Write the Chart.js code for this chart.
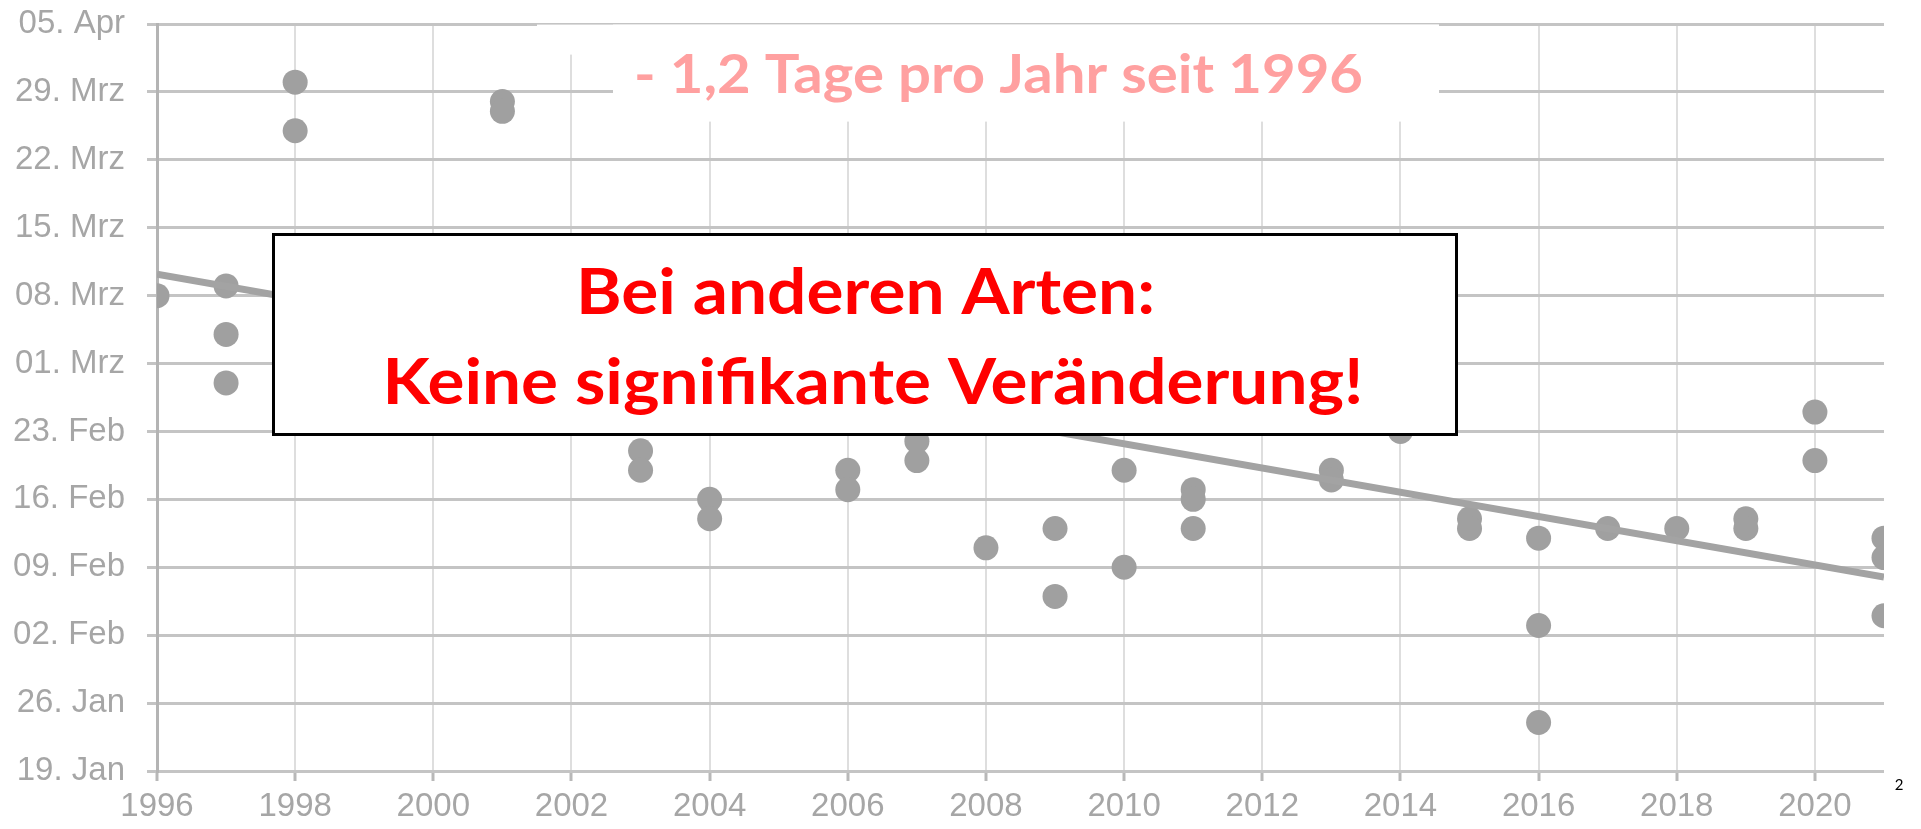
<!DOCTYPE html>
<html lang="de">
<head>
<meta charset="UTF-8">
<script src="https://cdn.jsdelivr.net/npm/chart.js"></script>
<title>Erstbeobachtung</title>
<style>
    body { margin: 0; background: #fff; }
    #wrap { width: 1921px; height: 829px; }
</style>
</head>
<body>
<div id="wrap"><canvas id="myChart"></canvas></div>
<script>
    // days counted as day of a leap year: 19 = 19. Jan, 96 = 05. Apr
    const yTickDays = [19, 26, 33, 40, 47, 54, 61, 68, 75, 82, 89, 96];
    const yTickLabels = ["19. Jan", "26. Jan", "02. Feb", "09. Feb", "16. Feb", "23. Feb",
                         "01. Mrz", "08. Mrz", "15. Mrz", "22. Mrz", "29. Mrz", "05. Apr"];
    const xTickYears = [1996, 1998, 2000, 2002, 2004, 2006, 2008, 2010, 2012, 2014, 2016, 2018, 2020];

    const obsYears = [1996, 1997, 1997, 1997, 1998, 1998, 2001, 2001, 2003, 2003,
                      2004, 2004, 2006, 2006, 2007, 2007, 2008, 2009, 2009, 2010,
                      2010, 2011, 2011, 2011, 2013, 2013, 2014, 2015, 2015, 2016,
                      2016, 2016, 2017, 2018, 2019, 2019, 2020, 2020, 2021, 2021, 2021];
    const obsDays  = [68, 69, 64, 59, 90, 85, 88, 87, 52, 50,
                      47, 45, 50, 48, 53, 51, 42, 44, 37, 50,
                      40, 48, 47, 44, 50, 49, 54, 45, 44, 43,
                      34, 24, 44, 44, 45, 44, 56, 51, 43, 41, 35];

    const trendYears = [1996, 2021];
    const trendDays = [70.2, 39.0];

    const trendNote = "- 1,2 Tage pro Jahr seit 1996";
    const boxLines = ["Bei anderen Arten:", "Keine signifikante Veränderung!"];
    const pageNo = "2";

    function fitText(ctx, text, cx, baseline, width, font, color) {
        ctx.save();
        ctx.font = font;
        ctx.fillStyle = color;
        ctx.textAlign = 'center';
        ctx.textBaseline = 'alphabetic';
        const w = ctx.measureText(text).width;
        ctx.translate(cx, baseline);
        ctx.scale(width / w, 1);
        ctx.fillText(text, 0, 0);
        ctx.restore();
    }

    const overlay = {
        id: 'overlay',
        afterDraw(chart) {
            const ctx = chart.ctx;
            ctx.save();
            // white patches behind the trend note (they thin the top grid line)
            ctx.fillStyle = '#fff';
            ctx.fillRect(537, 24.6, 902, 30);
            ctx.fillRect(613, 24.6, 826, 97);
            fitText(ctx, trendNote, 998.5, 93, 729, 'bold 54px Lato', '#ffa0a0');

            ctx.fillStyle = '#fff';
            ctx.fillRect(273, 235, 1184, 199);
            ctx.lineWidth = 3;
            ctx.strokeStyle = '#000';
            ctx.strokeRect(273.5, 234.5, 1183, 200);
            fitText(ctx, boxLines[0], 865.5, 314, 579, 'bold 64px Lato', '#ff0000');
            fitText(ctx, boxLines[1], 873, 404, 981, 'bold 64px Lato', '#ff0000');

            ctx.font = '15px Lato';
            ctx.fillStyle = '#000';
            ctx.textAlign = 'center';
            ctx.fillText(pageNo, 1899, 790);
            ctx.restore();
        }
    };

    const points = obsYears.map((yr, i) => ({ x: yr, y: obsDays[i] }));
    const trend = trendYears.map((yr, i) => ({ x: yr, y: trendDays[i] }));

    new Chart(document.getElementById('myChart'), {
        type: 'scatter',
        data: {
            datasets: [{
                data: points,
                backgroundColor: '#a0a0a0',
                borderWidth: 0,
                pointRadius: 12.5,
                order: 2
            }, {
                type: 'line',
                data: trend,
                borderColor: '#a3a3a3',
                borderWidth: 7,
                pointRadius: 0,
                fill: false,
                order: 1
            }]
        },
        options: {
            responsive: true,
            maintainAspectRatio: false,
            animation: false,
            layout: { padding: { top: 24, right: 37, left: 0, bottom: 0 } },
            plugins: { legend: { display: false }, tooltip: { enabled: false } },
            scales: {
                x: {
                    type: 'linear',
                    min: 1996,
                    max: 2021,
                    afterBuildTicks: (axis) => { axis.ticks = xTickYears.map(v => ({ value: v })); },
                    afterFit: (axis) => { axis.height = 58; },
                    grid: {
                        color: '#dedede',
                        lineWidth: 2,
                        borderDash: [9, 7],
                        tickColor: '#b8b8b8',
                        tickWidth: 3,
                        tickLength: 10,
                        tickBorderDash: []
                    },
                    border: { display: false },
                    ticks: {
                        color: '#a6a6a6',
                        font: { family: 'Liberation Sans', size: 33 },
                        padding: 6,
                        maxRotation: 0,
                        callback: (v) => String(v)
                    }
                },
                y: {
                    min: 19,
                    max: 96,
                    afterBuildTicks: (axis) => { axis.ticks = yTickDays.map(v => ({ value: v })); },
                    afterFit: (axis) => {
                        axis.width = 157;
                        axis.paddingTop = 0;
                        axis.paddingBottom = 0;
                    },
                    grid: {
                        color: '#c4c4c4',
                        lineWidth: 3,
                        tickLength: 10
                    },
                    border: { display: true, color: '#b4b4b4', width: 3 },
                    ticks: {
                        color: '#a6a6a6',
                        font: { family: 'Liberation Sans', size: 33 },
                        padding: 22,
                        callback: (v) => yTickLabels[yTickDays.indexOf(v)]
                    }
                }
            }
        },
        plugins: [overlay]
    });
</script>
</body>
</html>
